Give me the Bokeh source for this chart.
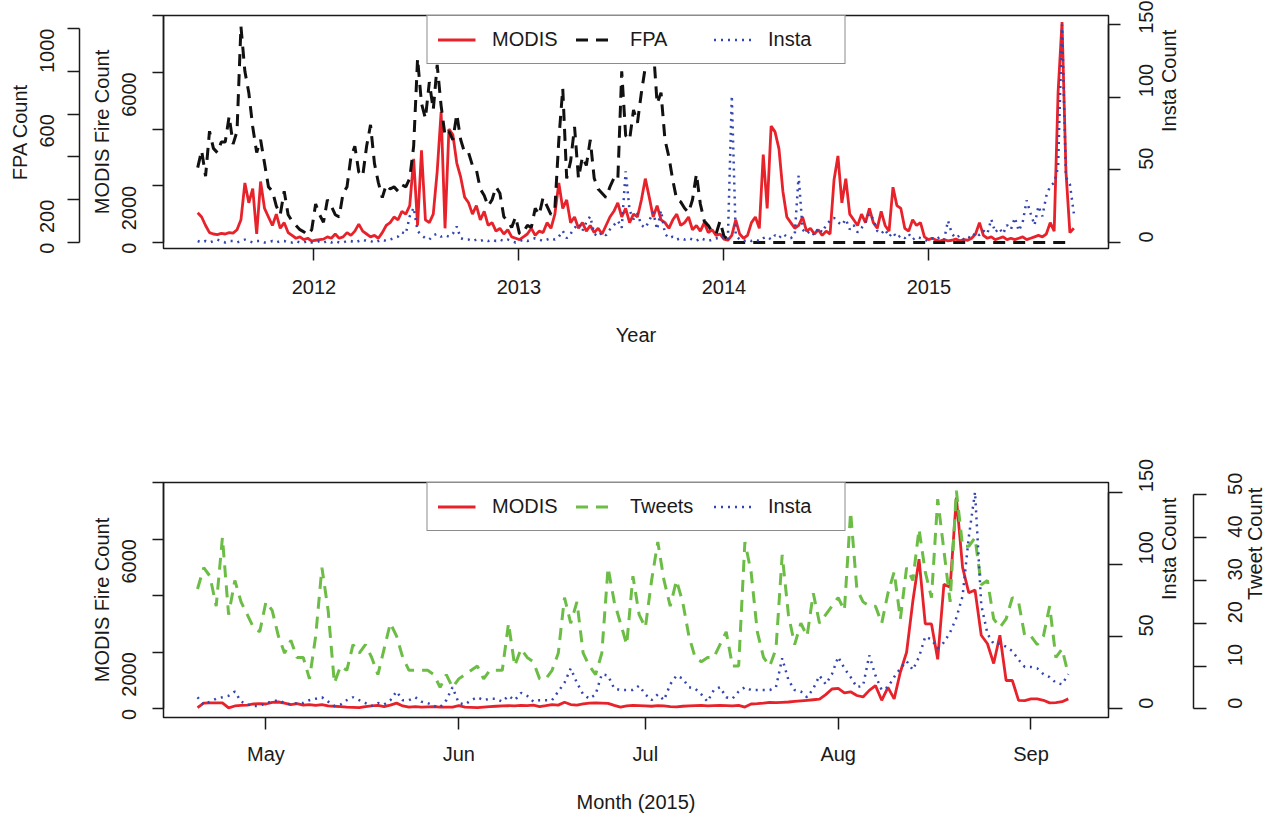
import math
import numpy as np
import pandas as pd
from bokeh.plotting import figure
from bokeh.models import Range1d, LinearAxis, FixedTicker, Legend, LegendItem
from bokeh.layouts import column
from bokeh.embed import file_html
from bokeh.resources import INLINE

FONT = "Liberation Sans"
TXT = "#1a1a1a"
FS = "20px"
RED = "#E8222A"
BLACK = "#111111"
BLUE = "#3346B0"
GREEN = "#6CBD45"

# ---------------- top panel: weekly values from 2011-06-08 ----------------
modis_weekly = [
    1050, 900, 600, 350, 300, 280, 320, 300, 350, 330,
    450, 800, 2100, 1400, 1900, 300, 2150, 1200, 900, 600,
    1000, 500, 700, 350, 250, 150, 200, 100, 150, 50,
    80, 100, 120, 200, 150, 300, 150, 200, 350, 250,
    400, 650, 400, 300, 200, 250, 150, 350, 600, 700,
    900, 800, 1100, 1000, 1300,
    2950, 600, 3250, 800, 700, 1000, 2500, 4600, 500, 4000,
    3800, 2800, 2300, 1600, 1400, 1000, 1300, 800, 1100, 600,
    700, 400, 500, 300, 450, 200, 150, 100, 200, 300,
    500, 250, 400, 350, 700, 500, 1000, 2100, 1200, 1500,
    700, 900, 500, 700, 400, 600, 350, 500, 300, 600,
    900, 1100, 1400, 900, 1200, 700, 1000, 900,
    1500, 2250, 1600, 900, 1300, 800, 700, 500, 800, 1000,
    600, 700, 900, 450, 600, 400, 700, 350, 450, 250,
    300, 120, 80, 250, 800, 300, 150, 250, 700, 900,
    500, 3100, 1200, 4100, 3900, 3300, 1800, 900, 700, 500,
    600, 900, 400, 500, 300, 450, 250, 400, 300, 2200,
    3050, 1400, 2250, 1000, 800, 600, 1000, 700,
    1200, 700, 500, 1100, 600, 400, 1950, 1300, 1200, 500,
    400, 800, 600, 700, 200, 100, 150, 80, 50, 100,
    60, 80, 120, 60, 100, 80, 150, 300, 700, 250,
    150, 200, 100, 150, 200, 100, 150, 100, 150, 200,
    100, 150, 200, 250, 200, 300, 700, 400, 5300, 7770,
    2500, 350, 500,
]

fpa_weekly = [
    350, 430, 310, 520, 440, 420, 470, 470, 590, 460,
    520, 1010, 800, 700, 540, 420, 480, 370, 260, 240,
    170, 130, 240, 130, 100, 80, 60, 50, 35, 60,
    180, 130, 95, 200, 170, 130, 120, 230, 260, 400,
    450, 330, 310, 450, 550, 370, 280, 210, 270, 250,
    260, 240, 270, 260,
    300, 450, 860, 650, 580, 750, 620, 830, 640, 500,
    520, 480, 600, 480, 420, 420, 360, 340, 250, 220,
    170, 200, 260, 230, 120, 100, 70, 120, 40, 50,
    80, 70, 160, 130, 210, 170, 130, 160, 480, 720,
    300, 380, 540, 300, 400, 360, 480, 300, 250, 230,
    210, 260, 300, 290, 800, 500, 480, 620, 560,
    700, 820, 870, 920, 650, 700, 480, 400, 290, 200,
    190, 160, 140, 200, 320, 180, 100, 80, 50, 40,
    100, 30, 15,
] + [0] * 86

insta_weekly = [
    1, 0, 1, 0, 1, 2, 1, 0, 1, 1,
    0, 1, 2, 1, 0, 1, 1, 0, 0, 1,
    0, 1, 1, 0, 0, 1, 0, 0, 1, 0,
    0, 1, 0, 1, 0, 1, 0, 0, 1, 1,
    0, 1, 2, 1, 1, 0, 1, 2, 1, 2,
    3, 4,
    7, 6, 18, 24, 8, 5, 3, 2, 5, 6,
    4, 5, 4, 6, 11, 3, 2, 2, 1, 2,
    1, 2, 1, 2, 1, 2, 1, 2, 1, 0,
    1, 2, 1, 2, 3, 2, 1, 2, 3, 2,
    4, 8, 3, 6, 10, 13, 8, 14, 18, 6,
    4, 7, 5, 9, 12, 15, 10, 49, 22, 16,
    20,
    12, 10, 15, 21, 9, 22, 6, 3, 4, 2,
    3, 2, 3, 2, 1, 3, 2, 1, 2, 3,
    2, 4, 2, 101, 5, 2, 1, 2, 1, 2,
    1, 3, 4, 2, 5, 3, 6, 4, 3, 5,
    46, 9, 6, 8, 5, 10, 7, 12, 15, 17,
    14, 12, 16, 9, 12, 7, 10, 14,
    20, 16, 8, 6, 9, 4, 7, 3, 5, 3,
    6, 2, 4, 3, 2, 1, 3, 2, 4, 2,
    15, 6, 3, 5, 2, 4, 3, 7, 5, 8,
    6, 16, 7, 10, 6, 12, 9, 17, 8, 14,
    29, 20, 12, 25, 18, 32, 39, 41, 52, 150,
    45, 40, 20,
]

# ---------------- bottom panel: daily values from 2015-04-20 ----------------
modis_daily = [
    40, 200, 210, 210, 210, 30, 100, 120, 130, 170,
    180, 170, 230, 240, 200, 150, 180, 130, 150, 120,
    150, 100, 90, 80, 60, 50, 40, 80, 100, 120,
    80, 130, 200, 100, 60, 80, 60, 70, 80, 60,
    60, 60, 110, 60, 50, 40, 60, 80, 90, 100,
    110, 100, 120, 110, 130, 80, 110, 150, 130, 230,
    150, 130, 170, 200, 210, 200, 190, 120, 60, 100,
    120, 110, 100, 90, 110, 100, 80, 70, 90, 100,
    110, 120, 100, 110, 120, 110, 100, 120, 60, 170,
    180, 200, 230, 220, 230, 240, 260, 280, 300, 320,
    340, 500, 700, 720, 560,
    600, 470, 420, 650, 820, 300, 760, 350, 1300, 2000,
    3800, 5290, 3000, 3000, 1750, 4400, 4300, 7470, 5000, 4100,
    4200, 2600, 2300, 1600, 2600, 1000, 1000, 300, 290, 350,
    350, 300, 210, 220, 250, 350,
]

tweets_daily = [
    28, 33, 31, 24, 40, 22, 30, 25, 22, 19,
    18, 25, 23, 17, 13, 16, 12, 12, 7, 17,
    33, 23, 6, 10, 9, 15, 13, 15, 12, 8,
    14, 20, 17, 12, 9, 9, 9, 9, 8, 5,
    8, 5, 7, 8, 9, 10, 7, 9, 9, 9,
    20, 10, 14, 12, 11, 7, 7, 9, 13, 26,
    20, 25, 13, 10, 8, 13, 33, 25, 20, 15,
    31, 22, 19, 30, 39, 30, 24, 30, 25, 17,
    12, 11, 12, 12, 15, 18, 10, 10, 39, 32,
    18, 12, 10, 14, 36, 22, 15, 20, 17, 27,
    20, 22, 24, 26, 23, 46, 28,
    25, 24, 24, 20, 27, 32, 21, 33, 30, 42,
    32, 26, 49, 37, 25, 51, 38, 38, 40, 29,
    30, 21, 19, 21, 26, 25, 17, 17, 15, 17,
    24, 12, 14, 8,
]

insta_daily = [
    8, 3, 5, 7, 8, 9, 12, 5, 3, 2,
    2, 4, 5, 6, 4, 3, 4, 4, 6, 7,
    8, 5, 2, 3, 6, 8, 6, 4, 2, 4,
    3, 6, 12, 6, 6, 8, 5, 4, 2, 1,
    6, 15, 4, 3, 6, 8, 6, 7, 7, 5,
    9, 6, 11, 9, 5, 6, 6, 6, 12, 18,
    28, 18, 10, 7, 10, 24, 23, 14, 13, 13,
    13, 16, 10, 6, 10, 6, 17, 23, 21, 15,
    14, 10, 5, 13, 15, 8, 7, 12, 15, 13,
    13, 13, 13, 15, 35, 20, 13, 12, 8, 14,
    23, 17, 24, 36,
    28, 22, 15, 16, 37, 23, 13, 15, 22, 28,
    33, 27, 36, 50, 48, 42, 46, 53, 63, 78,
    119, 150, 72, 52, 45, 45, 43, 40, 34, 29,
    29, 28, 24, 22, 18, 17, 24,
]

year_ticks = [2012, 2013, 2014, 2015]
month_names = ["May", "Jun", "Jul", "Aug", "Sep"]
modis_ticks = [0, 2000, 4000, 6000, 8000]
fpa_ticks = [0, 200, 400, 600, 800, 1000]
insta_ticks = [0, 50, 100, 150]
tweet_ticks = [0, 10, 20, 30, 40, 50]


def decimal_year(dates):
    days = np.where(dates.is_leap_year, 366.0, 365.0)
    return dates.year.values + (dates.dayofyear.values - 1) / days


top_dates = pd.Timestamp("2011-06-08") + pd.to_timedelta(np.arange(len(modis_weekly)) * 7, unit="D")
top_x = decimal_year(pd.DatetimeIndex(top_dates))
fpa_x = top_x[:len(fpa_weekly)]

bottom_dates = pd.date_range("2015-04-20", periods=len(modis_daily), freq="D")
bottom_x = bottom_dates.dayofyear.values.astype(float)
month_ticks = [int(pd.Timestamp(f"2015-{m:02d}-01").dayofyear) for m in (5, 6, 7, 8, 9)]


def style_axis(ax, ticks, overrides=None, tick_out=12, label_standoff=12,
               title=None, title_standoff=3, bounds=None, vertical=True,
               line=True, right=False):
    ax.ticker = FixedTicker(ticks=ticks, minor_ticks=[])
    ax.major_tick_in = 0
    ax.major_tick_out = tick_out
    ax.minor_tick_in = 0
    ax.minor_tick_out = 0
    ax.minor_tick_line_color = None
    ax.major_tick_line_color = TXT
    ax.major_tick_line_width = 1.5
    ax.axis_line_color = TXT if line else None
    ax.axis_line_width = 1.5
    if bounds is not None:
        ax.bounds = bounds
    ax.major_label_text_font = FONT
    ax.major_label_text_font_size = FS
    ax.major_label_text_color = TXT
    ax.major_label_standoff = label_standoff
    if vertical:
        ax.major_label_orientation = math.pi / 2
    if overrides:
        ax.major_label_overrides = overrides
    if title:
        ax.axis_label = title
        ax.axis_label_text_font = FONT
        ax.axis_label_text_font_size = FS
        ax.axis_label_text_font_style = "normal"
        ax.axis_label_text_color = TXT
        ax.axis_label_standoff = title_standoff
        if right:
            ax.axis_label_orientation = math.pi / 2


def spacer_axis(range_name, size):
    # an empty axis whose only job is to leave a blank strip between two axes
    return LinearAxis(y_range_name=range_name, ticker=FixedTicker(ticks=[0.5], minor_ticks=[]),
                      major_label_overrides={0.5: ""}, major_label_text_font_size="1px",
                      major_tick_out=size, major_tick_in=0, minor_tick_out=0,
                      minor_tick_in=0, major_label_standoff=0,
                      axis_line_color=None, major_tick_line_color="white",
                      major_tick_line_width=1, minor_tick_line_color=None)


def base_figure(frame_h, x_range, y_range, top, bottom):
    p = figure(frame_width=945, frame_height=frame_h, x_range=x_range, y_range=y_range,
               output_backend="svg", toolbar_location=None,
               min_border_left=163, min_border_right=155,
               min_border_top=top, min_border_bottom=bottom)
    p.xgrid.visible = False
    p.ygrid.visible = False
    p.outline_line_color = TXT
    p.outline_line_width = 1.5
    p.outline_line_alpha = 1.0
    p.background_fill_color = "white"
    p.border_fill_color = "white"
    return p


def make_legend(items):
    return Legend(items=items, orientation="horizontal", location="top", margin=0,
                  padding=10, spacing=17, glyph_width=38, glyph_height=27,
                  label_height=27, label_standoff=17, label_width=66,
                  label_text_font=FONT, label_text_font_size=FS, label_text_color=TXT,
                  border_line_color=TXT, border_line_width=1.5,
                  background_fill_color="white", background_fill_alpha=1.0)


# ---------------- top figure ----------------
p1 = base_figure(233, Range1d(2011.266, 2015.876), Range1d(-211, 8000), 15, 152)
p1.extra_y_ranges = {"fpa": Range1d(-28, 1061), "insta": Range1d(-4.13, 156.2),
                     "gap": Range1d(0, 1)}

style_axis(p1.xaxis[0], year_ticks, tick_out=12, label_standoff=19, title="Year",
           title_standoff=27, vertical=False, line=False)
style_axis(p1.yaxis[0], modis_ticks, overrides={4000: "", 8000: ""}, tick_out=11,
           label_standoff=23, title="MODIS Fire Count", title_standoff=0,
           bounds=(0, 8000))
p1.add_layout(spacer_axis("gap", 8), "left")
fpa_axis = LinearAxis(y_range_name="fpa")
style_axis(fpa_axis, fpa_ticks, overrides={400: "", 800: ""}, tick_out=12,
           label_standoff=20, title="FPA Count", title_standoff=0, bounds=(0, 1000))
p1.add_layout(fpa_axis, "left")
insta_axis1 = LinearAxis(y_range_name="insta")
style_axis(insta_axis1, insta_ticks, tick_out=12, label_standoff=26,
           title="Insta Count", title_standoff=5, bounds=(0, 150), right=True)
p1.add_layout(insta_axis1, "right")

r_modis1 = p1.line(top_x, modis_weekly, color=RED, line_width=2.8)
r_fpa = p1.line(fpa_x, fpa_weekly, y_range_name="fpa", color=BLACK, line_width=3,
                line_dash="12 8")
r_insta1 = p1.line(top_x, insta_weekly, y_range_name="insta", color=BLUE,
                   line_width=2.5, line_dash="2 5")
p1.add_layout(make_legend([
    LegendItem(label="MODIS", renderers=[r_modis1]),
    LegendItem(label="FPA", renderers=[r_fpa]),
    LegendItem(label="Insta", renderers=[r_insta1]),
]))

# ---------------- bottom figure ----------------
p2 = base_figure(235, Range1d(104.53, 256.46), Range1d(-308, 8000), 82, 94)
p2.extra_y_ranges = {"insta": Range1d(-6.0, 156.7), "tweet": Range1d(-2.03, 52.9)}
style_axis(p2.xaxis[0], month_ticks,
           overrides={t: n for t, n in zip(month_ticks, month_names)},
           tick_out=12, label_standoff=13, title="Month (2015)", title_standoff=23,
           vertical=False, line=False)
style_axis(p2.yaxis[0], modis_ticks, overrides={4000: "", 8000: ""}, tick_out=11,
           label_standoff=23, title="MODIS Fire Count", title_standoff=0,
           bounds=(0, 8000))
insta_axis2 = LinearAxis(y_range_name="insta")
style_axis(insta_axis2, insta_ticks, tick_out=14, label_standoff=24,
           title="Insta Count", title_standoff=5, bounds=(0, 150), right=True)
p2.add_layout(insta_axis2, "right")
tweet_axis = LinearAxis(y_range_name="tweet")
style_axis(tweet_axis, tweet_ticks, tick_out=13, label_standoff=29,
           title="Tweet Count", title_standoff=2, bounds=(0, 50), right=True)
p2.add_layout(tweet_axis, "right")

r_modis2 = p2.line(bottom_x, modis_daily, color=RED, line_width=2.8)
r_tweets = p2.line(bottom_x, tweets_daily, y_range_name="tweet", color=GREEN,
                   line_width=3, line_dash="12 8")
r_insta2 = p2.line(bottom_x, insta_daily, y_range_name="insta", color=BLUE,
                   line_width=2.5, line_dash="2 5")
p2.add_layout(make_legend([
    LegendItem(label="MODIS", renderers=[r_modis2]),
    LegendItem(label="Tweets", renderers=[r_tweets]),
    LegendItem(label="Insta", renderers=[r_insta2]),
]))

layout = column(p1, p2)
open("out.html", "w").write(file_html(layout, INLINE))
